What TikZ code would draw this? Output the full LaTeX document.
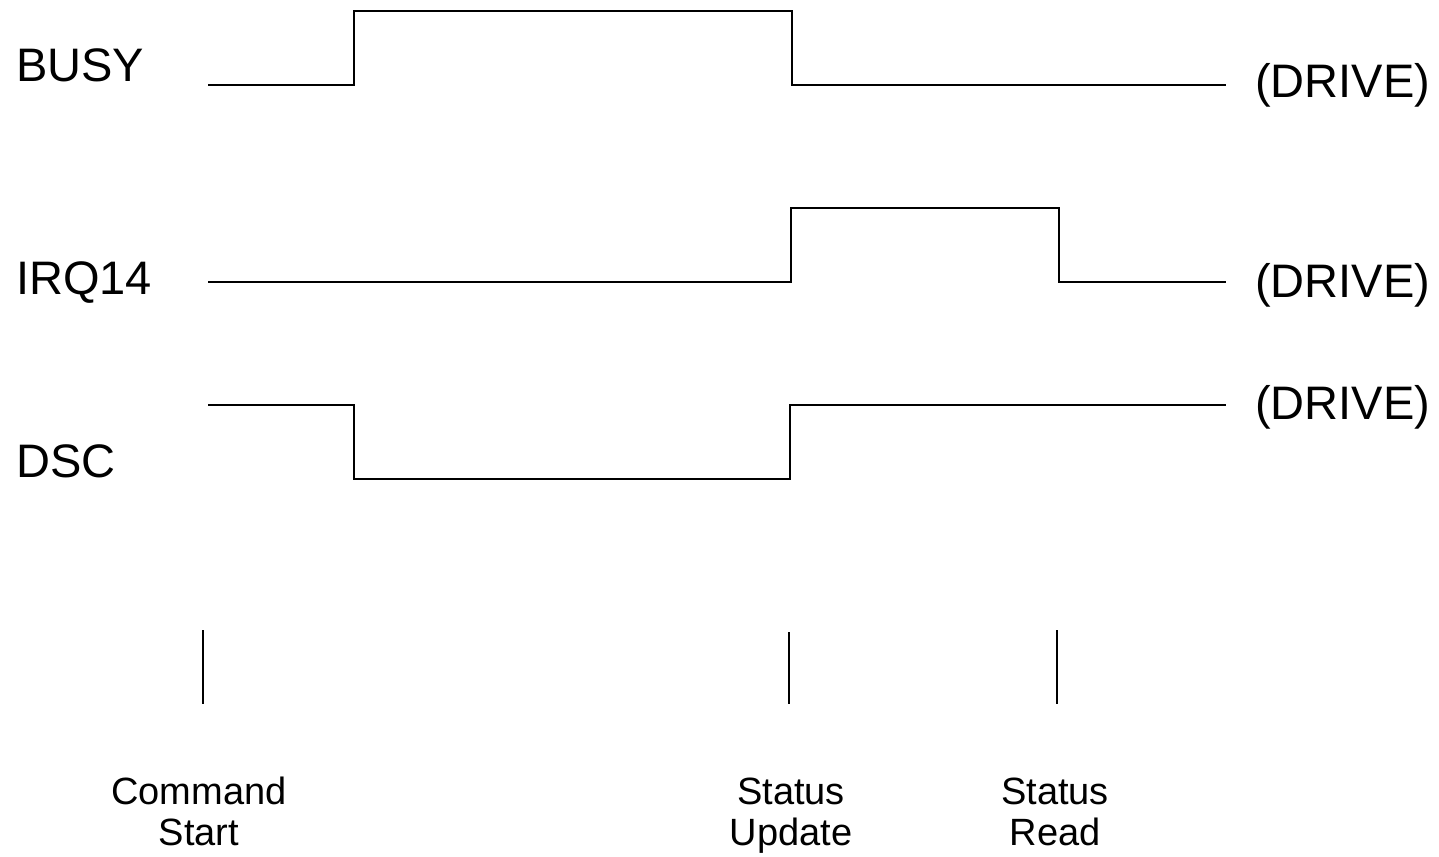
\documentclass[tikz,border=0pt]{standalone}
\usepackage{fontspec}
\setmainfont{Liberation Sans}
\begin{document}
\begin{tikzpicture}[x=1pt,y=-1pt,
  wave/.style={line width=2.6pt, line join=miter, line cap=butt},
  tickmark/.style={line width=2.4pt},
  sig/.style={anchor=base west, inner sep=0pt, font=\fontsize{47}{50}\selectfont},
  evt/.style={anchor=base, inner sep=0pt, align=center, font=\fontsize{38}{41}\selectfont}]
\useasboundingbox (0,0) rectangle (1439,856);
% signal names
\node[sig] (busy) at (16,82) {BUSY};
\node[sig] (irq) at (16,294) {IRQ14};
\node[sig] (dsc) at (16,477) {DSC};
\node[sig] (d1) at (1255,98) {(DRIVE)};
\node[sig] (d2) at (1255,297) {(DRIVE)};
\node[sig] (d3) at (1255,419) {(DRIVE)};
% BUSY waveform
\coordinate (b0) at (208,85);
\coordinate (b1) at (354,85);
\coordinate (b2) at (354,11);
\coordinate (b3) at (792,11);
\coordinate (b4) at (792,85);
\coordinate (b5) at (1226,85);
\draw[wave] (b0) -- (b1) -- (b2) -- (b3) -- (b4) -- (b5);
% IRQ14 waveform
\coordinate (i0) at (208,282);
\coordinate (i1) at (791,282);
\coordinate (i2) at (791,208);
\coordinate (i3) at (1059,208);
\coordinate (i4) at (1059,282);
\coordinate (i5) at (1226,282);
\draw[wave] (i0) -- (i1) -- (i2) -- (i3) -- (i4) -- (i5);
% DSC waveform
\coordinate (s0) at (208,405);
\coordinate (s1) at (354,405);
\coordinate (s2) at (354,479);
\coordinate (s3) at (790,479);
\coordinate (s4) at (790,405);
\coordinate (s5) at (1226,405);
\draw[wave] (s0) -- (s1) -- (s2) -- (s3) -- (s4) -- (s5);
% event ticks
\coordinate (t1a) at (203,630);
\coordinate (t1b) at (203,704);
\coordinate (t2a) at (789,632);
\coordinate (t2b) at (789,704);
\coordinate (t3a) at (1057,630);
\coordinate (t3b) at (1057,704);
\draw[tickmark] (t1a) -- (t1b);
\draw[tickmark] (t2a) -- (t2b);
\draw[tickmark] (t3a) -- (t3b);
% event labels (base = baseline of the last line)
\node[evt] (cmd) at (199,845) {Command\\Start};
\node[evt] (upd) at (791,845) {Status\\Update};
\node[evt] (rd) at (1055,845) {Status\\Read};
\end{tikzpicture}
\end{document}
